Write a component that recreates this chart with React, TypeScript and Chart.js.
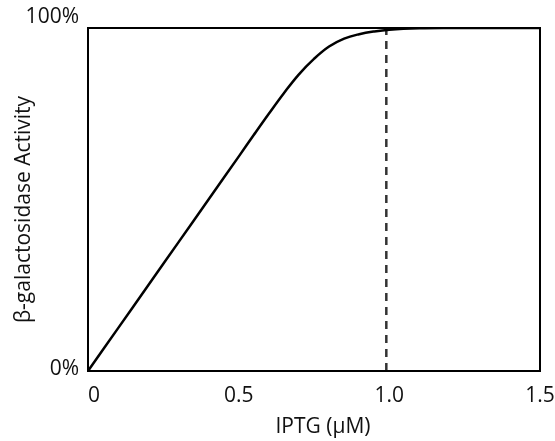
import React, { useEffect, useRef } from "react";
import { Chart, registerables } from "chart.js";

Chart.register(...registerables);

const iptg = [0, 0.1, 0.2, 0.3, 0.4, 0.5, 0.55, 0.6, 0.65, 0.7, 0.75, 0.8, 0.85, 0.9, 0.95, 1.0, 1.1, 1.2, 1.35, 1.5];
const activity = [0, 12.5, 25, 37.5, 50, 62.5, 68.8, 75, 81, 86.5, 91, 94.6, 96.9, 98.2, 99.0, 99.5, 99.9, 100, 100, 100];
const markerX = 0.99;
const markerTop = 99.4;
const xTickValues = [0, 0.5, 1.0, 1.5];
const xTickLabels = ["0", "0.5", "1.0", "1.5"];
const yTickValues = [0, 100];
const yTickLabels = ["0%", "100%"];
const xTitle = "IPTG (\u00b5M)";
const yTitle = "\u03b2-galactosidase Activity";

const FONT = '21px "Open Sans"';

const decorPlugin = {
  id: "decor",
  afterDraw(chart: any) {
    const { ctx, chartArea, scales } = chart;
    const xs = scales.x;
    const ys = scales.y;
    ctx.save();
    // frame
    ctx.strokeStyle = "#000";
    ctx.lineWidth = 2;
    ctx.strokeRect(chartArea.left, chartArea.top, chartArea.right - chartArea.left, chartArea.bottom - chartArea.top);
    ctx.fillStyle = "#111";
    ctx.font = FONT;
    ctx.textBaseline = "alphabetic";
    // x ticks
    xTickValues.forEach((v, i) => {
      const px = xs.getPixelForValue(v);
      ctx.textAlign = i === 0 ? "left" : "center";
      ctx.fillText(xTickLabels[i], px, chartArea.bottom + 31);
    });
    // y ticks
    ctx.textAlign = "right";
    yTickValues.forEach((v, i) => {
      const py = ys.getPixelForValue(v);
      const by = v === 0 ? py + 4 : py - 5;
      ctx.fillText(yTickLabels[i], chartArea.left - 9, by);
    });
    // x title
    ctx.textAlign = "center";
    ctx.fillText(xTitle, (chartArea.left + chartArea.right) / 2 + 9, chartArea.bottom + 62);
    // y title
    ctx.translate(30, (chartArea.top + chartArea.bottom) / 2 + 10);
    ctx.rotate(-Math.PI / 2);
    ctx.fillText(yTitle, 0, 0);
    ctx.restore();
  },
};

export default function App() {
  const ref = useRef<HTMLCanvasElement>(null);
  useEffect(() => {
    if (!ref.current) return;
    const chart = new Chart(ref.current, {
      type: "line",
      data: {
        datasets: [
          {
            data: iptg.map((x, i) => ({ x, y: activity[i] })),
            borderColor: "#000",
            borderWidth: 2.5,
            pointRadius: 0,
            tension: 0.4,
            fill: false,
          },
          {
            data: [
              { x: markerX, y: 0 },
              { x: markerX, y: markerTop },
            ],
            borderColor: "#333",
            borderWidth: 2.5,
            borderDash: [8, 6],
            pointRadius: 0,
            tension: 0,
            fill: false,
          },
        ],
      },
      options: {
        responsive: false,
        animation: false,
        layout: { padding: { top: 28, right: 15, left: 0, bottom: 0 } },
        plugins: { legend: { display: false }, tooltip: { enabled: false } },
        scales: {
          x: {
            type: "linear",
            min: 0,
            max: 1.5,
            grid: { display: false },
            border: { display: false },
            ticks: { display: false },
            afterFit: (s: any) => {
              s.height = 70;
            },
          },
          y: {
            min: 0,
            max: 100,
            grid: { display: false },
            border: { display: false },
            ticks: { display: false },
            afterFit: (s: any) => {
              s.width = 88;
            },
          },
        },
      },
      plugins: [decorPlugin],
    } as any);
    return () => chart.destroy();
  }, []);
  return (
    <div style={{ position: "fixed", left: 0, top: 0, width: 555, height: 441, background: "#fff" }}>
      <canvas ref={ref} width={555} height={441} />
    </div>
  );
}
